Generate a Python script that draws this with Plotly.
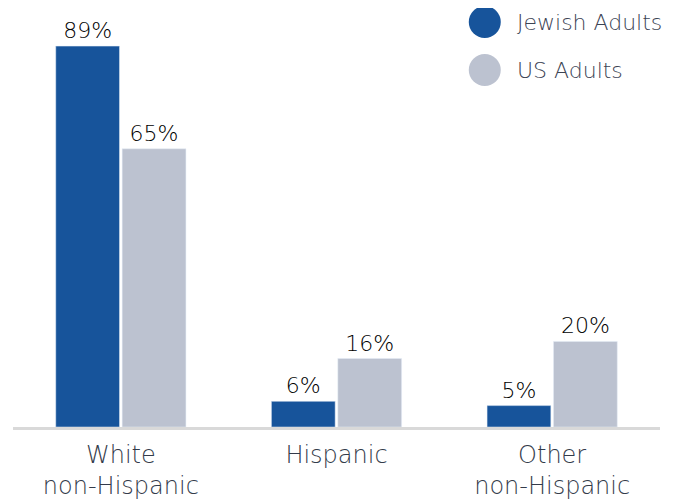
import plotly.graph_objects as go

categories = ["White<br>non-Hispanic", "Hispanic", "Other<br>non-Hispanic"]
jewish = [89, 6, 5]
us = [65, 16, 20]
series_names = ["Jewish Adults", "US Adults"]
colors = ["#17549b", "#bcc2d0"]

FONT = "DejaVu Sans"
fig = go.Figure()
for name, vals, col in zip(series_names, [jewish, us], colors):
    fig.add_trace(go.Bar(
        x=categories, y=vals, name=name, marker_color=col,
        text=[f"{v}%" for v in vals], textposition="outside",
        textfont=dict(family=FONT, size=22, color="#000000", weight=300),
        cliponaxis=False, showlegend=False,
    ))

L, T, PW, PH = 4.5, 12, 648, 407
legend_y = [14, 62]
for i, (name, col) in enumerate(zip(series_names, colors)):
    yp = 1 - (legend_y[i] - T) / PH
    fig.add_shape(type="circle", xref="paper", yref="paper",
                  xsizemode="pixel", ysizemode="pixel",
                  xanchor=(477 - L) / PW, yanchor=yp,
                  x0=-16, x1=16, y0=-16, y1=16,
                  fillcolor=col, line=dict(width=0))
    fig.add_annotation(xref="paper", yref="paper",
                       x=(507 - L) / PW, y=yp, xanchor="left", yanchor="middle",
                       text=name, showarrow=False,
                       font=dict(family=FONT, size=22, color="#3c4454", weight=300))

fig.update_layout(
    width=674, height=502,
    margin=dict(l=L, r=674 - L - PW, t=T, b=502 - T - PH),
    barmode="group", bargap=0.384, bargroupgap=0.04,
    plot_bgcolor="white", paper_bgcolor="white",
    xaxis=dict(showline=True, linecolor="#d9d9d9", linewidth=3, ticks="",
               ticklabelstandoff=4,
               tickfont=dict(family=FONT, size=24, color="#333b4a", weight=300),
               showgrid=False),
    yaxis=dict(range=[0, 95.1], visible=False, showgrid=False),
)
fig.write_html("out.html")
